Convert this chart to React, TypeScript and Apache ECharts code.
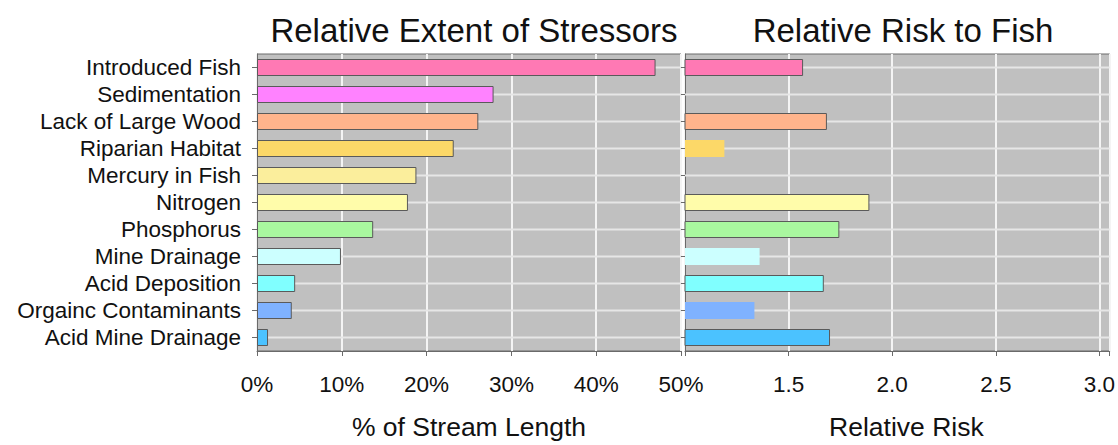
import React, { useEffect, useRef } from "react";
import * as echarts from "echarts";

const categories = [
  "Introduced Fish",
  "Sedimentation",
  "Lack of Large Wood",
  "Riparian Habitat",
  "Mercury in Fish",
  "Nitrogen",
  "Phosphorus",
  "Mine Drainage",
  "Acid Deposition",
  "Orgainc Contaminants",
  "Acid Mine Drainage",
];

// % of stream length
const extentPct = [47.0, 27.9, 26.1, 23.2, 18.8, 17.8, 13.7, 9.9, 4.5, 4.1, 1.3];
// relative risk (null = not shown)
const relativeRisk = [1.57, null, 1.685, 1.19, null, 1.89, 1.745, 1.36, 1.67, 1.335, 1.7];

const extentTickLabels = ["0%", "10%", "20%", "30%", "40%", "50%"];
const riskTickLabels = ["1.5", "2.0", "2.5", "3.0"];

const EXTENT_MIN = 0;
const EXTENT_MAX = 50;
const RISK_MIN = 1;
const RISK_MAX = 3.05;

const barColors = [
  "#FF79B4",
  "#FF82FF",
  "#FFB48C",
  "#FCD868",
  "#FBEE9C",
  "#FFFCAA",
  "#A9F79F",
  "#CCFFFF",
  "#80FFFF",
  "#7FB2FF",
  "#4BC2FF",
];

const noOutlineRisk = new Set(["Riparian Habitat", "Mine Drainage", "Orgainc Contaminants"]);

const FONT = "'Liberation Sans', Arial, sans-serif";
const BORDER = "#6a6a6a";

export default function App() {
  const ref = useRef<HTMLDivElement>(null);

  useEffect(() => {
    if (!ref.current) return;
    const chart = echarts.init(ref.current, null, { renderer: "svg" });

    const gridCommon = {
      show: true,
      backgroundColor: "#C0C0C0",
      borderColor: BORDER,
      borderWidth: 1,
      top: 54,
      height: 301,
      containLabel: false,
    };

    const catAxis = (gridIndex: number, showLabels: boolean) => ({
      type: "category",
      gridIndex,
      data: categories,
      inverse: true,
      axisLine: { show: true, lineStyle: { color: BORDER, width: 1 } },
      axisTick: { show: true, interval: 0, alignWithLabel: true, length: 5, lineStyle: { color: BORDER } },
      axisLabel: {
        show: showLabels,
        interval: 0,
        margin: 16,
        color: "#111",
        fontSize: 22.5,
        fontFamily: FONT,
      },
      splitLine: { show: false },
    });

    // hidden twin category axis: carries the thin row rules through each category centre
    const rowAxis = (gridIndex: number) => ({
      type: "category",
      gridIndex,
      data: categories,
      inverse: true,
      show: false,
    });

    const rowRule = (gridIndex: number, yAxisIndex: number, from: number, to: number) => ({
      type: "bar",
      xAxisIndex: gridIndex,
      yAxisIndex,
      z: 1,
      silent: true,
      barWidth: 2,
      clip: true,
      itemStyle: { color: "#E6E6E6" },
      data: categories.map(() => to),
    });

    const option = {
      animation: false,
      backgroundColor: "#FFFFFF",
      title: [
        {
          text: "Relative Extent of Stressors",
          left: 469,
          top: 9,
          textAlign: "center",
          textStyle: { fontSize: 33, fontWeight: "normal", color: "#111", fontFamily: FONT },
        },
        {
          text: "Relative Risk to Fish",
          left: 898,
          top: 9,
          textAlign: "center",
          textStyle: { fontSize: 33, fontWeight: "normal", color: "#111", fontFamily: FONT },
        },
      ],
      grid: [
        { ...gridCommon, left: 257, width: 424 },
        { ...gridCommon, left: 685, width: 425 },
      ],
      xAxis: [
        {
          type: "value",
          gridIndex: 0,
          min: EXTENT_MIN,
          max: EXTENT_MAX,
          interval: 10,
          name: "% of Stream Length",
          nameLocation: "middle",
          nameGap: 62,
          nameTextStyle: { fontSize: 26.5, color: "#111", fontFamily: FONT },
          axisLine: { show: true, lineStyle: { color: BORDER } },
          axisTick: { show: true, length: 5, lineStyle: { color: BORDER } },
          axisLabel: {
            margin: 22,
            fontSize: 22.5,
            color: "#111",
            fontFamily: FONT,
            formatter: (v: number) => extentTickLabels[Math.round(v / 10)] ?? "",
          },
          splitLine: { show: true, lineStyle: { color: "#F4F4F4", width: 2 } },
        },
        {
          type: "value",
          gridIndex: 1,
          min: RISK_MIN,
          max: RISK_MAX,
          interval: 0.5,
          name: "Relative Risk",
          nameLocation: "middle",
          nameGap: 62,
          nameTextStyle: { fontSize: 26.5, color: "#111", fontFamily: FONT, padding: [0, 0, 0, 18] },
          axisLine: { show: true, lineStyle: { color: BORDER } },
          axisTick: { show: true, length: 5, lineStyle: { color: BORDER } },
          axisLabel: {
            margin: 22,
            fontSize: 22.5,
            color: "#111",
            fontFamily: FONT,
            formatter: (v: number) => {
              const idx = Math.round((v - 1.5) / 0.5);
              if (Math.abs(v - (1.5 + idx * 0.5)) > 0.001) return "";
              return riskTickLabels[idx] ?? "";
            },
          },
          splitLine: { show: true, lineStyle: { color: "#F4F4F4", width: 2 } },
        },
      ],
      yAxis: [catAxis(0, true), catAxis(1, false), rowAxis(0), rowAxis(1)],
      series: [
        rowRule(0, 2, EXTENT_MIN, EXTENT_MAX),
        rowRule(1, 3, RISK_MIN, RISK_MAX),
        {
          type: "bar",
          xAxisIndex: 0,
          yAxisIndex: 0,
          z: 3,
          barWidth: 17,
          clip: true,
          data: extentPct.map((v, i) => ({
            value: v,
            itemStyle: { color: barColors[i], borderColor: "#5a5a5a", borderWidth: 1 },
          })),
        },
        {
          type: "bar",
          xAxisIndex: 1,
          yAxisIndex: 1,
          z: 3,
          barWidth: 17,
          clip: true,
          data: relativeRisk.map((v, i) => ({
            value: v,
            itemStyle: {
              color: barColors[i],
              borderColor: "#5a5a5a",
              borderWidth: noOutlineRisk.has(categories[i]) ? 0 : 1,
            },
          })),
        },
      ],
    };

    chart.setOption(option as any);
    return () => chart.dispose();
  }, []);

  return (
    <div
      ref={ref}
      style={{ position: "fixed", left: 0, top: 0, width: 1118, height: 445, background: "#fff" }}
    />
  );
}
